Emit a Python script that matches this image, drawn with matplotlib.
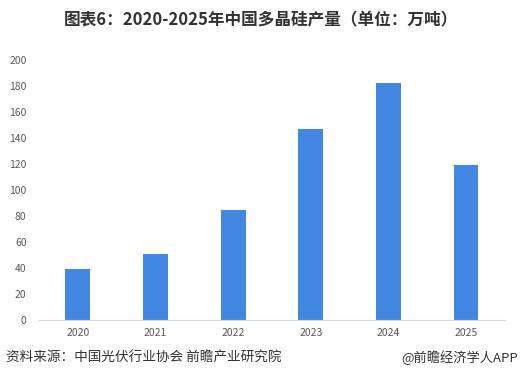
import matplotlib.pyplot as plt

plt.rcParams['font.family'] = ['Noto Sans CJK SC', 'DejaVu Sans']

years = ['2020', '2021', '2022', '2023', '2024', '2025']
output = [39, 51, 85, 147, 182, 119]
yticks = list(range(0, 201, 20))

fig = plt.figure(figsize=(5.21, 3.87), dpi=100)
ax = fig.add_axes([0.075, 0.173, 0.894, 0.672])

x = list(range(len(years)))
ax.bar(x, output, width=0.32, color='#4287E2')
ax.set_xlim(-0.5, len(years) - 0.5)
ax.set_ylim(0, 200)
ax.set_yticks(yticks)
ax.set_xticks(x)
ax.set_xticklabels(years)
ax.tick_params(axis='both', length=0, labelsize=7.5, colors='#595959')
ax.tick_params(axis='y', pad=9)
ax.tick_params(axis='x', pad=6)
for s in ['top', 'right', 'left']:
    ax.spines[s].set_visible(False)
ax.spines['bottom'].set_color('#D9D9D9')

fig.text(0.5, 0.948, '图表6：2020-2025年中国多晶硅产量（单位：万吨）', ha='center', va='center',
         fontsize=12, fontweight='bold', color='#333333')
fig.text(0.012, 0.077, '资料来源：中国光伏行业协会 前瞻产业研究院', ha='left', va='center',
         fontsize=9.8, color='#333333')
fig.text(0.995, 0.077, '@前瞻经济学人APP', ha='right', va='center',
         fontsize=9.5, color='#333333')

fig.savefig('out.png', dpi=100)
